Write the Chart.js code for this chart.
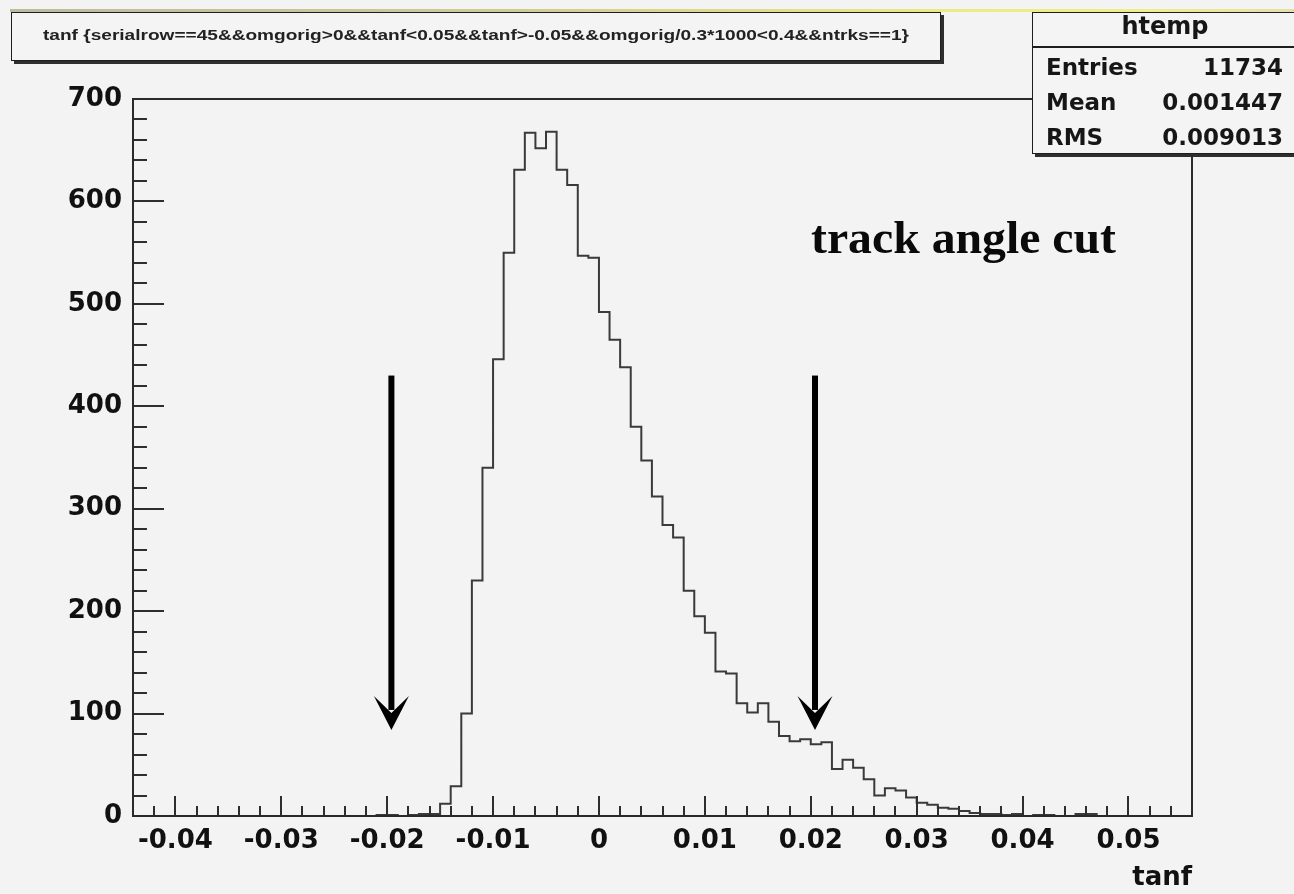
<!DOCTYPE html>
<html>
<head>
<meta charset="utf-8">
<script src="https://cdn.jsdelivr.net/npm/chart.js@4.4.1/dist/chart.umd.min.js"></script>
<style>
  html, body { margin: 0; padding: 0; background: #f3f3f3; }
  #wrap { position: relative; width: 1294px; height: 894px; overflow: hidden; background: #f3f3f3; }
  #c { position: absolute; left: 0; top: 0; }
  .band { position: absolute; left: 10px; top: 9px; width: 1290px; height: 3px;
          background: linear-gradient(90deg, #bdbba0 0%, #cfcd96 40%, #ecea84 72%, #f0ee8c 88%, #e2e0aa 100%); }
  .pave { position: absolute; background: #f4f4f4; border: 1.5px solid #1e1e1e; box-shadow: 3px 3px 0 #2e2e2e; box-sizing: border-box; }
  #titlebox { left: 11px; top: 12px; width: 930px; height: 49px; }
  #statsbox { left: 1032px; top: 12px; width: 300px; height: 142px; }
  #statsline { position: absolute; left: 1032px; top: 46px; width: 300px; height: 1.5px; background: #1e1e1e; }
  .t { position: absolute; white-space: nowrap; line-height: 1; color: #161616; font-family: "DejaVu Sans", sans-serif; font-weight: bold; }
  #titletxt { left: 43px; top: 28px; font-family: "Liberation Sans", Arial, sans-serif; font-size: 14px; transform-origin: 0 0; color: #222; }
  #htemp { left: 1165px; top: 14px; font-size: 24px; transform: translateX(-50%); }
  .sl { left: 1046px; font-size: 23px; }
  .sv { right: 11px; font-size: 23px; text-align: right; }
  #ann { left: 811px; top: 215px; font-family: "Liberation Serif", "DejaVu Serif", serif; font-size: 46px; color: #0a0a0a; transform-origin: 0 0; }
</style>
</head>
<body>
<div id="wrap">
  <canvas id="c" width="1294" height="894"></canvas>
  <div class="band"></div>
  <div class="pave" id="titlebox"></div>
  <div class="t" id="titletxt">tanf {serialrow==45&amp;&amp;omgorig&gt;0&amp;&amp;tanf&lt;0.05&amp;&amp;tanf&gt;-0.05&amp;&amp;omgorig/0.3*1000&lt;0.4&amp;&amp;ntrks==1}</div>
  <div class="pave" id="statsbox"></div>
  <div id="statsline"></div>
  <div class="t" id="htemp">htemp</div>
  <div class="t sl" style="top:56px">Entries</div>
  <div class="t sv" style="top:56px">11734</div>
  <div class="t sl" style="top:91px">Mean</div>
  <div class="t sv" style="top:91px">0.001447</div>
  <div class="t sl" style="top:126px">RMS</div>
  <div class="t sv" style="top:126px">0.009013</div>
  <div class="t" id="ann">track angle cut</div>
</div>
<script>
// ---- data ----
const xMin = -0.044;
const xMax = 0.056;
const nBins = 100;
const counts = [
  0, 0, 0, 0, 0, 0, 0, 0, 0, 0,
  0, 0, 0, 0, 0, 0, 0, 0, 0, 0,
  0, 0, 0, 0, 1, 1, 0, 1, 2, 2,
  12, 29, 100, 230, 340, 446, 550, 631, 667, 652,
  668, 631, 616, 547, 545, 492, 465, 438, 380, 347,
  312, 284, 272, 220, 195, 179, 141, 139, 110, 101,
  110, 92, 78, 73, 75, 70, 72, 46, 55, 47,
  36, 20, 27, 25, 18, 13, 11, 8, 7, 5,
  3, 2, 2, 1, 2, 0, 1, 1, 0, 0,
  2, 2, 0, 0, 0, 0, 0, 0, 0, 0
];
const xTickValues = [-0.04, -0.03, -0.02, -0.01, 0, 0.01, 0.02, 0.03, 0.04, 0.05];
const xTickLabels = ['-0.04', '-0.03', '-0.02', '-0.01', '0', '0.01', '0.02', '0.03', '0.04', '0.05'];
const yTickValues = [0, 100, 200, 300, 400, 500, 600, 700];
const yTickLabels = ['0', '100', '200', '300', '400', '500', '600', '700'];
const arrowX = [-0.0196, 0.0204];
const arrowTop = 430;
const arrowTip = 84;

// histogram outline points (left edge of each bin, plus closing right edge)
const binW = (xMax - xMin) / nBins;
const histPoints = counts.map((c, i) => ({ x: xMin + i * binW, y: c }));
histPoints.push({ x: xMax, y: counts[counts.length - 1] });

const tickFont = { family: 'DejaVu Sans', weight: 'bold', size: 26 };

const rootPlugin = {
  id: 'rootFrame',
  afterDatasetsDraw(chart) {
    const { ctx, chartArea: a, scales: { x, y } } = chart;
    ctx.save();
    ctx.strokeStyle = '#2e2e2e';
    ctx.lineWidth = 2;
    ctx.beginPath();
    // x minor ticks every 0.002
    for (let i = 1; i < 50; i++) {
      const px = Math.round(x.getPixelForValue(xMin + i * 0.002));
      ctx.moveTo(px, a.bottom);
      ctx.lineTo(px, a.bottom - 10);
    }
    for (const v of xTickValues) {
      const px = Math.round(x.getPixelForValue(v));
      ctx.moveTo(px, a.bottom);
      ctx.lineTo(px, a.bottom - 20);
    }
    // y minor ticks every 20
    for (let i = 1; i < 35; i++) {
      const py = Math.round(y.getPixelForValue(i * 20));
      ctx.moveTo(a.left, py);
      ctx.lineTo(a.left + 14, py);
    }
    for (const v of yTickValues) {
      const py = Math.round(y.getPixelForValue(v));
      ctx.moveTo(a.left, py);
      ctx.lineTo(a.left + 31, py);
    }
    ctx.stroke();
    // frame
    ctx.strokeStyle = '#2a2a2a';
    ctx.lineWidth = 2;
    ctx.strokeRect(a.left, a.top, a.right - a.left, a.bottom - a.top);
    // arrows
    ctx.fillStyle = '#000';
    for (const ax of arrowX) {
      const px = x.getPixelForValue(ax);
      const yT = y.getPixelForValue(arrowTop);
      const yP = y.getPixelForValue(arrowTip);
      ctx.fillRect(px - 3, yT, 6, (yP - 20) - yT);
      ctx.beginPath();
      ctx.moveTo(px, yP);
      ctx.lineTo(px - 17.5, yP - 34);
      ctx.lineTo(px, yP - 17);
      ctx.lineTo(px + 17.5, yP - 34);
      ctx.closePath();
      ctx.fill();
    }
    ctx.restore();
  }
};

new Chart(document.getElementById('c'), {
  type: 'scatter',
  data: {
    datasets: [{
      data: histPoints,
      showLine: true,
      stepped: 'after',
      borderColor: '#3a3a3a',
      borderWidth: 2,
      pointRadius: 0,
      fill: false
    }]
  },
  options: {
    responsive: false,
    animation: false,
    devicePixelRatio: 1,
    layout: { padding: { top: 99, right: 102, left: 0, bottom: 0 } },
    plugins: { legend: { display: false }, tooltip: { enabled: false }, title: { display: false } },
    scales: {
      x: {
        type: 'linear',
        min: xMin,
        max: xMax,
        afterBuildTicks: s => { s.ticks = xTickValues.map(v => ({ value: v })); },
        afterFit: s => { s.height = 78; },
        grid: { display: false, drawTicks: false },
        border: { display: false },
        ticks: {
          font: tickFont, color: '#111', padding: 10, maxRotation: 0, autoSkip: false,
          callback: (v) => { const i = xTickValues.findIndex(t => Math.abs(t - v) < 1e-9); return i >= 0 ? xTickLabels[i] : ''; }
        },
        title: {
          display: true, text: 'tanf', align: 'end', color: '#111',
          font: tickFont, padding: { top: 0, bottom: 0 }
        }
      },
      y: {
        type: 'linear',
        min: 0,
        max: 700,
        afterBuildTicks: s => { s.ticks = yTickValues.map(v => ({ value: v })); },
        afterFit: s => { s.width = 133; },
        grid: { display: false, drawTicks: false },
        border: { display: false },
        ticks: {
          font: tickFont, color: '#111', padding: 11, autoSkip: false,
          callback: (v) => { const i = yTickValues.indexOf(v); return i >= 0 ? yTickLabels[i] : ''; }
        }
      }
    }
  },
  plugins: [rootPlugin]
});

function fitWidth(id, w) {
  const el = document.getElementById(id);
  const r = el.getBoundingClientRect().width;
  if (r > 0) el.style.transform = 'scaleX(' + (w / r) + ')';
}
fitWidth('titletxt', 866);
fitWidth('ann', 305);
</script>
</body>
</html>
